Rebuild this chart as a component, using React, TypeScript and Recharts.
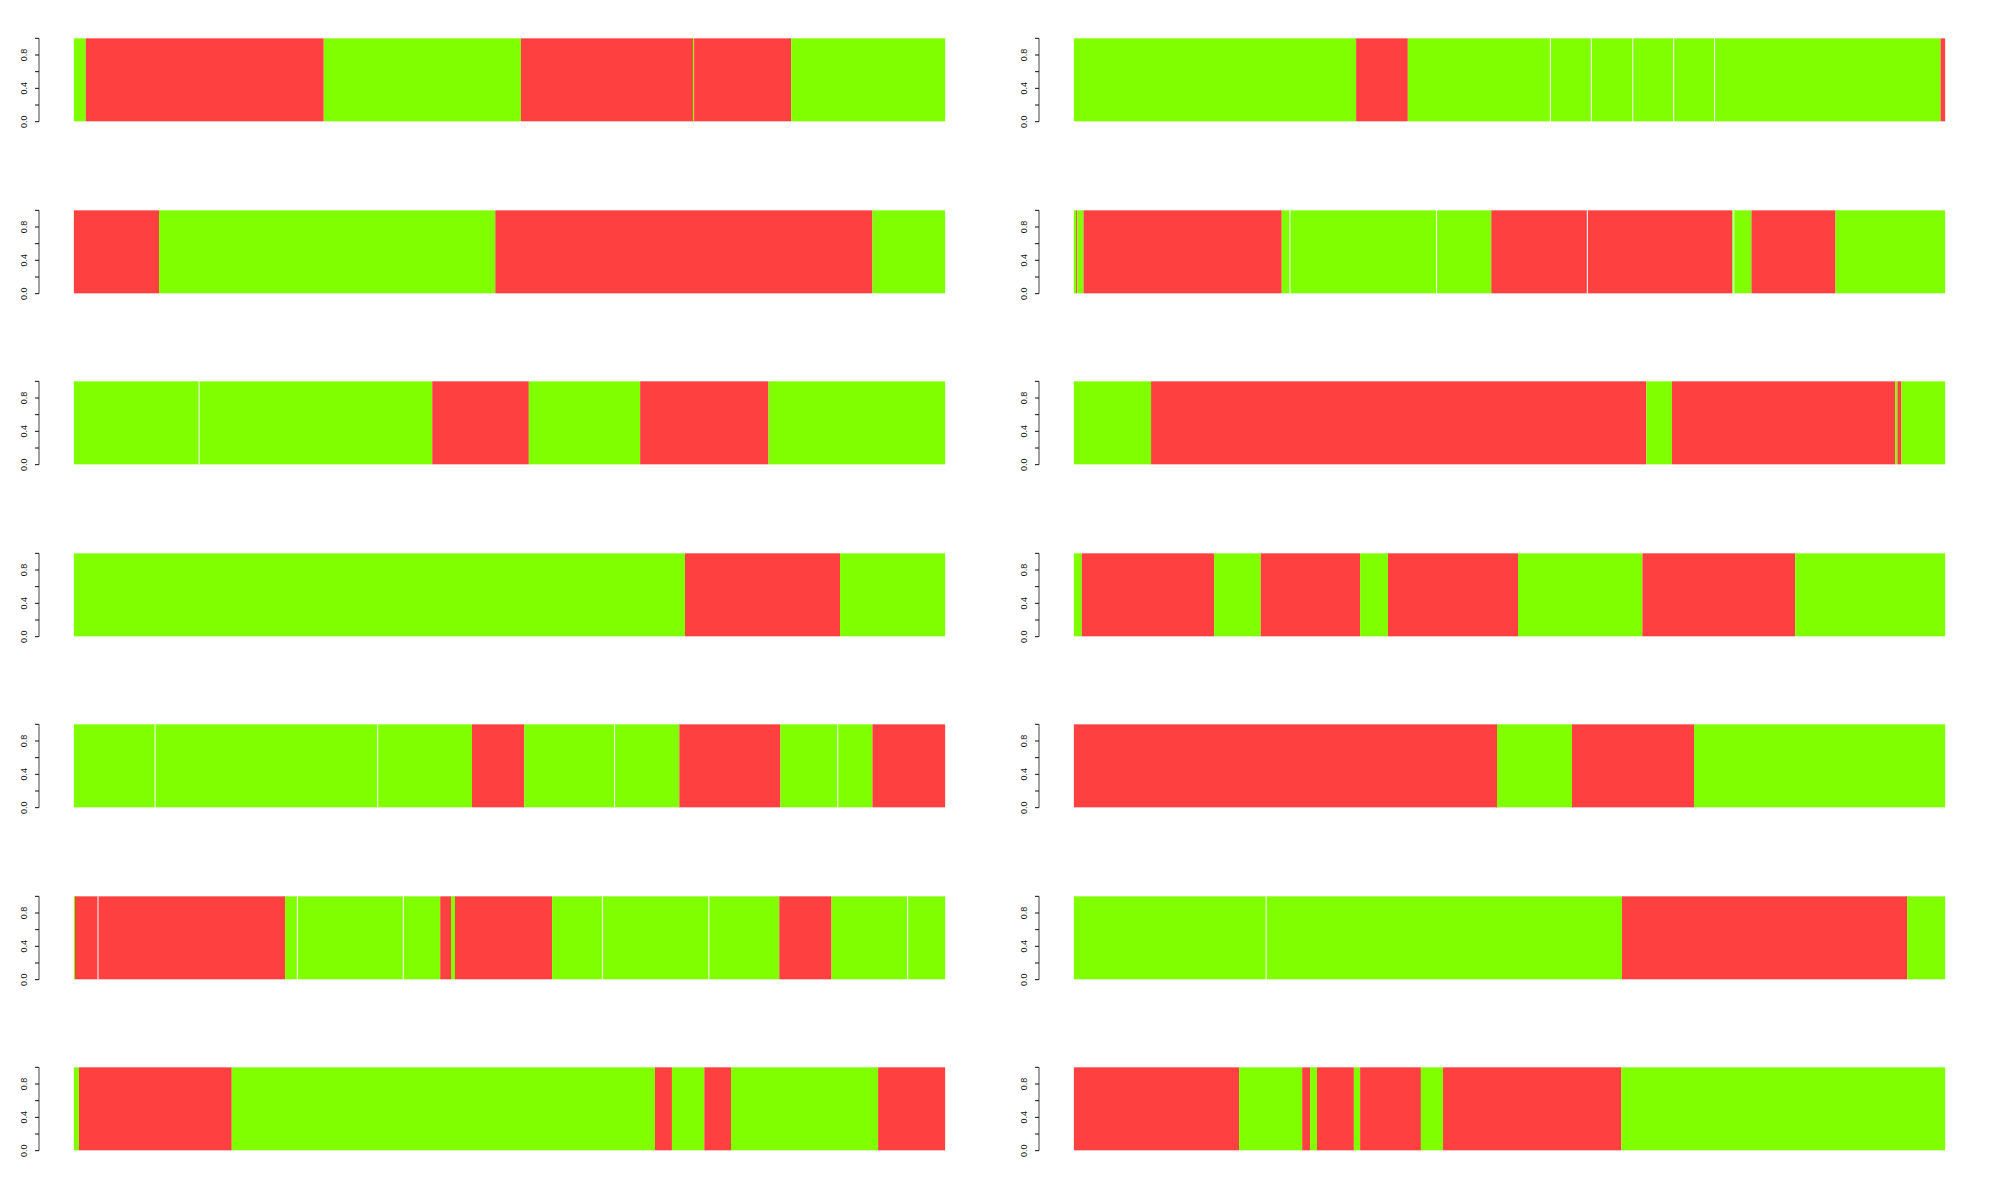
import { Bar, BarChart, Line, LineChart, XAxis, YAxis } from "recharts";

const GREEN = "#7FFF00";
const RED = "#FF4040";

// run lengths of each state, left to right
const left1Lengths = [21, 419, 347, 303, 2, 171, 271];
const left1States = ["G", "R", "G", "R", "G", "R", "G"];
const left2Lengths = [150, 592, 664, 128];
const left2States = ["R", "G", "R", "G"];
const left3Lengths = [220.5, 410.5, 170, 196, 226, 311];
const left3States = ["G", "G", "R", "G", "R", "G"];
const left4Lengths = [1076, 273, 185];
const left4States = ["G", "R", "G"];
const left5Lengths = [143, 392, 166, 92, 159, 114, 178, 101, 61, 128];
const left5States = ["G", "G", "G", "R", "G", "G", "R", "G", "G", "R"];
const left6Lengths = [2, 40.5, 329.5, 21.5, 186.5, 65, 19, 7, 171, 88.5, 187.5, 124, 92, 134, 66];
const left6States = ["G", "R", "R", "G", "G", "G", "R", "G", "R", "G", "G", "G", "R", "G", "G"];
const left7Lengths = [9, 269, 745, 30, 57, 47, 259, 118];
const left7States = ["G", "R", "G", "R", "G", "R", "G", "R"];

const right1Lengths = [497, 91, 251, 72, 73, 72, 72, 398, 8];
const right1States = ["G", "R", "G", "G", "G", "G", "G", "G", "R"];
const right2Lengths = [4, 2, 11, 349, 14.5, 258, 96.5, 169, 255, 3, 31, 148, 193];
const right2States = ["G", "R", "G", "R", "G", "G", "G", "R", "R", "G", "G", "R", "G"];
const right3Lengths = [136, 872, 45, 393, 4, 7, 77];
const right3States = ["G", "R", "G", "R", "G", "R", "G"];
const right4Lengths = [14, 233, 82, 175, 49, 229, 219, 269, 264];
const right4States = ["G", "R", "G", "R", "G", "R", "G", "R", "G"];
const right5Lengths = [745, 132, 215, 442];
const right5States = ["R", "G", "R", "G"];
const right6Lengths = [338.5, 626.5, 502, 67];
const right6States = ["G", "G", "R", "G"];
const right7Lengths = [291, 111, 14, 12, 65, 11, 107, 39, 314, 570];
const right7States = ["R", "G", "R", "G", "R", "G", "R", "G", "R", "G"];

const tickValues = [0, 0.2, 0.4, 0.6, 0.8, 1];
const tickLabels = ["0.0", "", "0.4", "", "0.8", ""];
const axisRange = [{ v: 0 }, { v: 1 }];

const leftColumn = [
  [left1Lengths, left1States],
  [left2Lengths, left2States],
  [left3Lengths, left3States],
  [left4Lengths, left4States],
  [left5Lengths, left5States],
  [left6Lengths, left6States],
  [left7Lengths, left7States],
] as const;

const rightColumn = [
  [right1Lengths, right1States],
  [right2Lengths, right2States],
  [right3Lengths, right3States],
  [right4Lengths, right4States],
  [right5Lengths, right5States],
  [right6Lengths, right6States],
  [right7Lengths, right7States],
] as const;

const renderTick = (props: any) => {
  const { x, y, payload } = props;
  const label = tickLabels[tickValues.indexOf(payload.value)] ?? "";
  if (!label) return <g />;
  const tx = x - 5.5;
  return (
    <text
      x={tx}
      y={y}
      transform={`rotate(-90 ${tx} ${y})`}
      textAnchor="middle"
      fontSize={9}
      fontFamily="'Liberation Sans', Arial, sans-serif"
      fill="#111"
    >
      {label}
    </text>
  );
};

// white hairline where two runs of the same state touch
const runShape = (color: string, seam: boolean) => (props: any) => (
  <g>
    <rect x={props.x} y={props.y} width={props.width} height={props.height} fill={color} />
    {seam && <rect x={props.x - 0.5} y={props.y} width={1} height={props.height} fill="#fff" />}
  </g>
);

interface StripProps {
  lengths: readonly number[];
  states: readonly string[];
  left: number;
  top: number;
}

function Strip({ lengths, states, left, top }: StripProps) {
  const total = lengths.reduce((a, b) => a + b, 0);
  const pad = total * 0.04;
  const row: Record<string, number | string> = { name: "run" };
  lengths.forEach((v, i) => {
    row[`s${i}`] = v;
  });

  return (
    <div style={{ position: "absolute", left, top, width: 980, height: 110 }}>
      <div style={{ position: "absolute", left: 0, top: 0 }}>
        <BarChart
          width={980}
          height={110}
          data={[row]}
          layout="vertical"
          margin={{ top: 10, right: 0, bottom: 10, left: 39 }}
          barCategoryGap="3.7037%"
        >
          <XAxis type="number" hide domain={[-pad, total + pad]} allowDataOverflow />
          <YAxis type="category" dataKey="name" hide />
          {lengths.map((_, i) => {
            const color = states[i] === "G" ? GREEN : RED;
            const seam = i > 0 && states[i] === states[i - 1];
            return (
              <Bar
                key={i}
                dataKey={`s${i}`}
                stackId="run"
                fill={color}
                isAnimationActive={false}
                shape={runShape(color, seam)}
              />
            );
          })}
        </BarChart>
      </div>
      <div style={{ position: "absolute", left: 0, top: 0 }}>
        <LineChart
          width={45}
          height={110}
          data={axisRange}
          margin={{ top: 13.333, right: 0, bottom: 13.333, left: 0 }}
        >
          <XAxis hide />
          <YAxis
            type="number"
            domain={[0, 1]}
            allowDataOverflow
            ticks={tickValues}
            interval={0}
            width={39}
            axisLine={{ stroke: "#444", strokeWidth: 1 }}
            tickSize={4}
            tickLine={{ stroke: "#111", strokeWidth: 1 }}
            tick={renderTick}
          />
          <Line dataKey="v" stroke="none" dot={false} isAnimationActive={false} />
        </LineChart>
      </div>
    </div>
  );
}

export default function App() {
  return (
    <div
      style={{
        position: "absolute",
        left: 0,
        top: 0,
        width: 2000,
        height: 1200,
        background: "#fff",
        overflow: "hidden",
      }}
    >
      {leftColumn.map(([lengths, states], k) => (
        <Strip key={`l${k}`} lengths={lengths} states={states} left={0} top={25 + 171.5 * k} />
      ))}
      {rightColumn.map(([lengths, states], k) => (
        <Strip key={`r${k}`} lengths={lengths} states={states} left={1000} top={25 + 171.5 * k} />
      ))}
    </div>
  );
}
